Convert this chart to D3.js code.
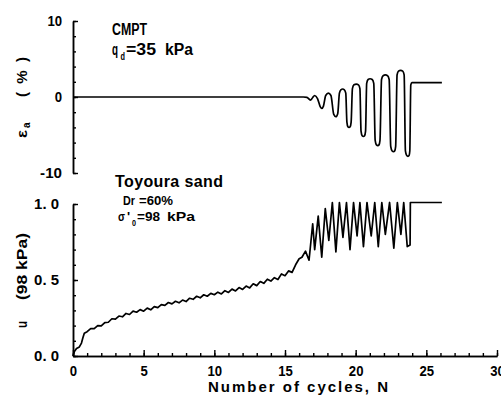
<!DOCTYPE html>
<html>
<head>
<meta charset="utf-8">
<script src="https://cdn.jsdelivr.net/npm/d3@7"></script>
<style>
  body { margin: 0; background: #fff; }
</style>
</head>
<body>
<svg id="chart"></svg>
<script>
// axial strain record (top panel), N = number of cycles, e = strain %
const strainN = [0, 16.3, 16.55, 16.8, 16.95, 17.1, 17.3, 17.5, 17.6, 17.72,
  17.88, 18.07, 18.25, 18.45, 18.6, 18.73,
  18.85, 18.95, 19.08, 19.2, 19.3, 19.38, 19.45, 19.53, 19.61, 19.68,
  19.77, 19.88, 20.05, 20.2, 20.3, 20.38, 20.46, 20.55, 20.63, 20.7,
  20.78, 20.88, 21.02, 21.17, 21.28, 21.38, 21.47, 21.57, 21.65, 21.72,
  21.83, 21.94, 22.1, 22.26, 22.37, 22.48, 22.58, 22.68, 22.76, 22.83,
  22.93, 23.03, 23.18, 23.33, 23.43, 23.52, 23.61, 23.7, 23.78, 23.83,
  23.9, 23.98, 26.1];
const strainE = [0, 0, -0.05, -0.4, -0.1, 0.2, -0.2, -1.3, -1.5, -1.2,
  0.2, 0.5, 0.2, -2.3, -2.6, -2.2,
  0.5, 0.95, 1.05, 0.95, 0.5, -3.3, -3.9, -4.0, -3.9, -3.3,
  1.1, 1.6, 1.7, 1.6, 1.1, -4.5, -5.1, -5.2, -5.1, -4.5,
  1.8, 2.3, 2.4, 2.3, 1.8, -5.7, -6.3, -6.4, -6.3, -5.7,
  2.3, 2.8, 2.9, 2.8, 2.3, -6.5, -7.1, -7.2, -7.1, -6.5,
  2.9, 3.4, 3.5, 3.4, 2.9, -7.1, -7.7, -7.8, -7.7, -7.1,
  1.6, 1.9, 1.9];

// excess pore pressure record (bottom panel), u in units of 98 kPa
const poreN = [0, 0.1, 0.25, 0.45, 0.6, 0.7, 0.8, 0.9,
  1.0, 1.25, 1.5, 1.75, 2.0, 2.25, 2.5, 2.75, 3.0, 3.25, 3.5, 3.75,
  4.0, 4.25, 4.5, 4.75, 5.0, 5.25, 5.5, 5.75, 6.0, 6.25, 6.5, 6.75,
  7.0, 7.25, 7.5, 7.75, 8.0, 8.25, 8.5, 8.75, 9.0, 9.25, 9.5, 9.75,
  10.0, 10.25, 10.5, 10.75, 11.0, 11.25, 11.5, 11.75, 12.0, 12.25, 12.5, 12.75,
  13.0, 13.25, 13.5, 13.75, 14.0, 14.25, 14.5, 14.75, 15.0, 15.25, 15.5, 15.75,
  16.0, 16.2, 16.45, 16.7, 16.96, 17.1, 17.35, 17.6, 17.85, 18.1, 18.35, 18.6,
  18.85, 19.1, 19.35, 19.6, 19.85, 20.1, 20.3, 20.55, 20.8, 21.1, 21.35, 21.6,
  21.85, 22.1, 22.4, 22.7, 22.95, 23.2, 23.4, 23.65, 23.85, 23.87, 26.1];
const poreU = [0, 0.03, 0.05, 0.06, 0.085, 0.12, 0.15, 0.155,
  0.160, 0.180, 0.180, 0.200, 0.198, 0.220, 0.222, 0.245, 0.243, 0.263, 0.258, 0.280,
  0.273, 0.295, 0.288, 0.305, 0.295, 0.315, 0.304, 0.325, 0.318, 0.338, 0.333, 0.352,
  0.343, 0.360, 0.350, 0.368, 0.358, 0.380, 0.373, 0.393, 0.383, 0.403, 0.393, 0.412,
  0.403, 0.420, 0.408, 0.430, 0.418, 0.440, 0.428, 0.450, 0.438, 0.460, 0.448, 0.475,
  0.463, 0.490, 0.478, 0.505, 0.493, 0.515, 0.503, 0.540, 0.528, 0.560, 0.550, 0.600,
  0.640, 0.650, 0.690, 0.630, 0.870, 0.700, 0.920, 0.650, 0.970, 0.760, 1.010, 0.685,
  1.010, 0.780, 1.010, 0.700, 1.010, 0.790, 1.010, 0.720, 1.010, 0.790, 1.010, 0.720,
  1.010, 0.800, 1.010, 0.710, 1.010, 0.800, 1.010, 0.720, 0.730, 1.010, 1.010];

const topLabels = [-10, 0, 10];
const topMinor = [-10, -8, -6, -4, -2, 0, 2, 4, 6, 8, 10];
const botLabels = [0, 0.5, 1.0];
const botMinor = [0, 0.1, 0.2, 0.3, 0.4, 0.5, 0.6, 0.7, 0.8, 0.9, 1.0];
const xLabels = [0, 5, 10, 15, 20, 25, 30];
const xMinor = d3.range(0, 31);

const width = 501, height = 396;
const font = "'Liberation Sans', Arial, sans-serif";

const svg = d3.select('#chart')
  .attr('width', width)
  .attr('height', height)
  .style('font-family', font)
  .style('font-weight', 'bold');

svg.append('rect').attr('width', width).attr('height', height).attr('fill', '#fff');

const x = d3.scaleLinear().domain([0, 30]).range([73, 497]);
const yTop = d3.scaleLinear().domain([-10, 10]).range([173, 21]);
const yBot = d3.scaleLinear().domain([0, 1]).range([356, 204]);

// squeeze text into a given width (the original uses a narrow font)
function fit(sel, len, mode) {
  return sel.attr('textLength', len).attr('lengthAdjust', mode || 'spacingAndGlyphs');
}
// pixel width per character of the narrow tick font
const charW = s => s.replace(/ /g, '').length * 7.3 + (s.includes(' ') ? 3 : 0);

function styleAxis(g, size) {
  g.attr('font-family', font).attr('font-size', size).attr('font-weight', 'bold');
  g.select('.domain').attr('stroke', '#000').attr('stroke-width', 1.5);
  g.selectAll('.tick line').attr('stroke', '#000').attr('stroke-width', 1.4);
  g.selectAll('.tick text').attr('fill', '#000')
    .each(function() {
      const t = d3.select(this);
      if (t.text()) fit(t, charW(t.text()));
    });
}

// top panel y axis (ticks point inward)
svg.append('g').attr('transform', `translate(${x(0)},0)`)
  .call(d3.axisLeft(yTop).tickValues(topMinor).tickSize(-3).tickSizeOuter(0).tickFormat(''))
  .call(g => styleAxis(g, 15));
svg.append('g').attr('transform', `translate(${x(0)},0)`)
  .call(d3.axisLeft(yTop).tickValues(topLabels).tickSize(-5).tickSizeOuter(0).tickPadding(11)
    .tickFormat(d => d < 0 ? '-' + Math.abs(d) : d))
  .call(g => styleAxis(g, 15));

// bottom panel y axis
svg.append('g').attr('transform', `translate(${x(0)},0)`)
  .call(d3.axisLeft(yBot).tickValues(botMinor).tickSize(-3).tickSizeOuter(0).tickFormat(''))
  .call(g => styleAxis(g, 15));
svg.append('g').attr('transform', `translate(${x(0)},0)`)
  .call(d3.axisLeft(yBot).tickValues(botLabels).tickSize(-5).tickSizeOuter(0).tickPadding(14)
    .tickFormat(d => d3.format('.1f')(d).replace('.', '. ')))
  .call(g => styleAxis(g, 15));

// bottom x axis
svg.append('g').attr('transform', `translate(0,${yBot(0)})`)
  .call(d3.axisBottom(x).tickValues(xMinor).tickSize(-3).tickSizeOuter(0).tickFormat(''))
  .call(g => styleAxis(g, 15));
svg.append('g').attr('transform', `translate(0,${yBot(0)})`)
  .call(d3.axisBottom(x).tickValues(xLabels).tickSize(-6).tickSizeOuter(0).tickPadding(9))
  .call(g => styleAxis(g, 15));

// curves
const strainLine = d3.line()
  .x((d, i) => x(strainN[i]))
  .y(d => yTop(d))
  .curve(d3.curveMonotoneX);
svg.append('path')
  .datum(strainE)
  .attr('fill', 'none')
  .attr('stroke', '#000')
  .attr('stroke-width', 1.7)
  .attr('stroke-linejoin', 'round')
  .attr('d', strainLine);

const poreLine = d3.line()
  .x((d, i) => x(poreN[i]))
  .y(d => yBot(d));
svg.append('path')
  .datum(poreU)
  .attr('fill', 'none')
  .attr('stroke', '#000')
  .attr('stroke-width', 1.7)
  .attr('stroke-linejoin', 'round')
  .attr('d', poreLine);

// axis titles
const epsLabel = svg.append('text')
  .attr('transform', 'translate(27,138) rotate(-90)')
  .attr('font-size', 15);
fit(epsLabel.append('tspan').attr('x', 0), 8).text('ε');
epsLabel.append('tspan').attr('x', 10).attr('dy', 3).attr('font-size', 10).text('a');
fit(epsLabel.append('tspan').attr('x', 41).attr('dy', -3), 40, 'spacing').text('( % )');

const uLabel = svg.append('text')
  .attr('transform', 'translate(27,328) rotate(-90)')
  .attr('font-size', 15);
fit(uLabel.append('tspan').attr('x', 0), 7).text('u');
fit(uLabel.append('tspan').attr('x', 28), 67).text('(98 kPa)');

fit(svg.append('text')
  .attr('x', 208).attr('y', 392)
  .attr('font-size', 15), 180, 'spacing')
  .text('Number of cycles, N');

// annotations
fit(svg.append('text').attr('x', 112).attr('y', 35).attr('font-size', 16), 35).text('CMPT');

const qd = svg.append('text').attr('y', 55).attr('font-size', 16);
fit(qd.append('tspan').attr('x', 112), 6).text('q');
fit(qd.append('tspan').attr('x', 120.5).attr('dy', 5).attr('font-size', 10), 4.5).text('d');
fit(qd.append('tspan').attr('x', 126).attr('dy', -5), 30).text('=35');
fit(qd.append('tspan').attr('x', 165), 28).text('kPa');

fit(svg.append('text').attr('x', 115).attr('y', 187).attr('font-size', 16), 108, 'spacing')
  .text('Toyoura sand');

const dr = svg.append('text').attr('y', 205).attr('font-size', 12);
fit(dr.append('tspan').attr('x', 123), 12).text('Dr');
fit(dr.append('tspan').attr('x', 139), 34).text('=60%');

const sig = svg.append('text').attr('y', 221).attr('font-size', 13);
fit(sig.append('tspan').attr('x', 118), 7).text('σ');
sig.append('tspan').attr('x', 127).text('\'');
fit(sig.append('tspan').attr('x', 132).attr('dy', 5).attr('font-size', 9), 4).text('0');
fit(sig.append('tspan').attr('x', 137).attr('dy', -5), 23).text('=98');
fit(sig.append('tspan').attr('x', 167), 28).text('kPa');
</script>
</body>
</html>
